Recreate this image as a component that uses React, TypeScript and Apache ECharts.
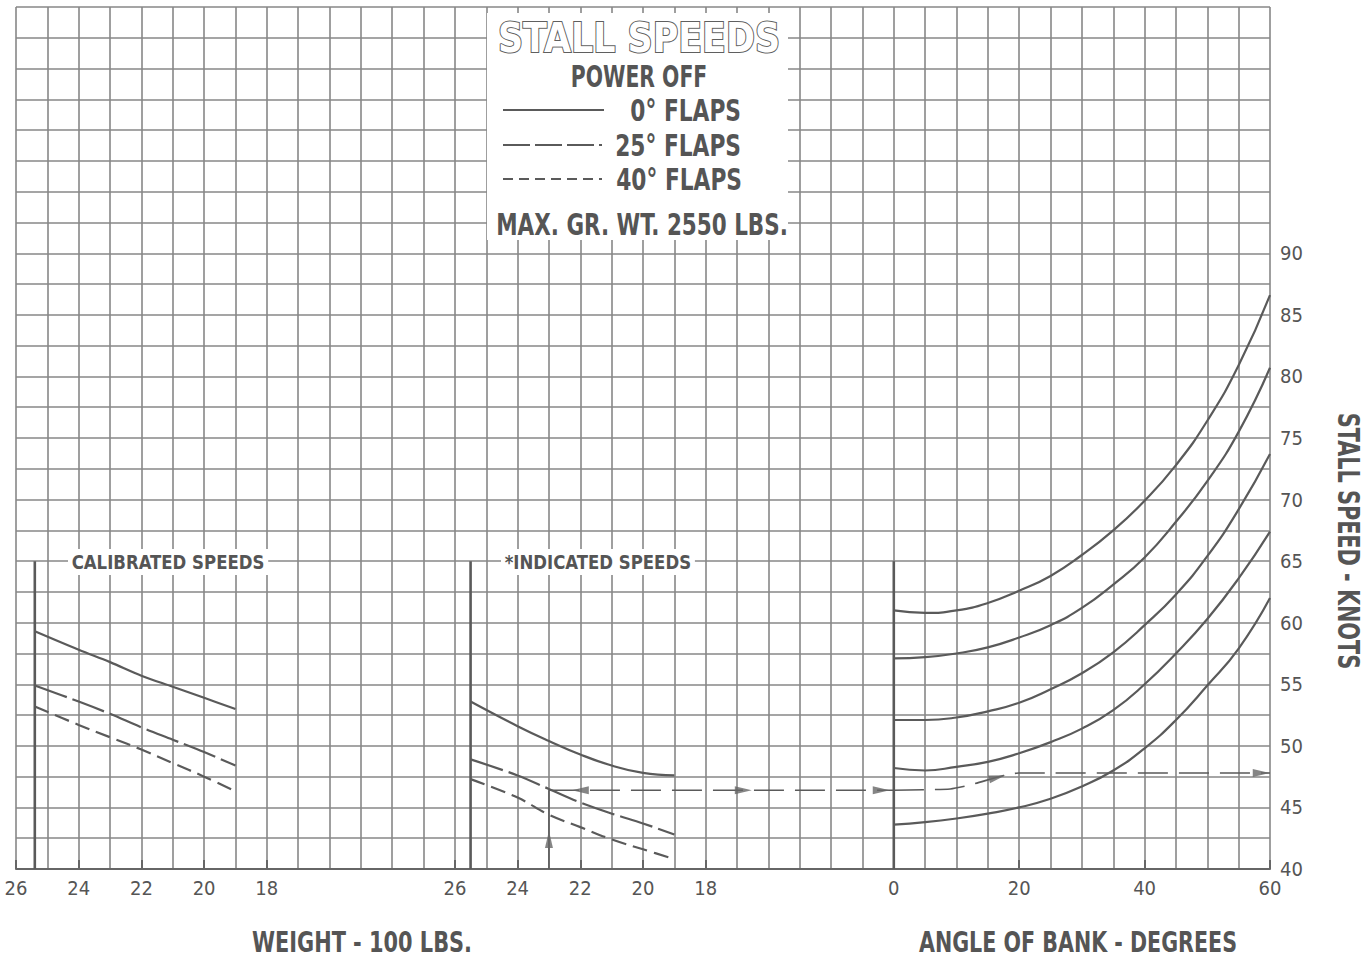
import React, { useEffect, useRef } from 'react';
import * as echarts from 'echarts';

// ---------- data ----------
const WEIGHT_TICKS = [26, 24, 22, 20, 18];
const BANK_TICKS = [0, 20, 40, 60];
const SPEED_TICKS = [40, 45, 50, 55, 60, 65, 70, 75, 80, 85, 90];

// calibrated speeds panel (weight in 100 lbs)
const CAL_WEIGHTS = [25.4, 24, 23, 22, 21, 20, 19];
const CAL_FLAPS0 = [59.3, 57.8, 56.8, 55.7, 54.8, 53.9, 53.0];
const CAL_FLAPS25 = [54.9, 53.6, 52.6, 51.5, 50.5, 49.5, 48.4];
const CAL_FLAPS40 = [53.2, 51.7, 50.7, 49.7, 48.6, 47.5, 46.3];

// indicated speeds panel
const IND_WEIGHTS = [25.5, 24, 23, 22, 21, 20, 19];
const IND_FLAPS0 = [53.6, 51.6, 50.4, 49.3, 48.4, 47.8, 47.6];
const IND_FLAPS25 = [48.9, 47.6, 46.5, 45.4, 44.5, 43.7, 42.8];
const IND_FLAPS40 = [47.3, 45.8, 44.4, 43.4, 42.4, 41.6, 40.8];

// angle of bank panel
const BANK_ANGLES = [0, 5, 10, 15, 20, 25, 30, 35, 40, 45, 50, 55, 60];
const BANK_A = [61.0, 60.8, 61.0, 61.6, 62.6, 63.8, 65.5, 67.5, 69.9, 72.8, 76.4, 80.9, 86.6];
const BANK_B = [57.1, 57.2, 57.5, 58.0, 58.8, 59.8, 61.2, 63.1, 65.3, 68.2, 71.5, 75.5, 80.7];
const BANK_C = [52.1, 52.1, 52.3, 52.8, 53.5, 54.6, 55.9, 57.6, 59.8, 62.3, 65.4, 69.2, 73.7];
const BANK_D = [48.2, 48.0, 48.3, 48.7, 49.4, 50.3, 51.4, 52.9, 55.0, 57.5, 60.3, 63.6, 67.4];
const BANK_E = [43.6, 43.8, 44.1, 44.5, 45.0, 45.7, 46.7, 48.0, 49.8, 52.1, 54.9, 57.9, 62.0];

// worked example
const EXAMPLE_WEIGHT = 23;
const EXAMPLE_IAS = 46.4;
const EXAMPLE_BANK_ANGLES = [0, 9, 12, 17.5, 20, 60];
const EXAMPLE_BANK_SPEEDS = [46.4, 46.5, 46.8, 47.6, 47.8, 47.8];

const CAL_START = 25.4;
const IND_START = 25.5;
const PANEL_TOP = 65;

// ---------- layout ----------
const L = 16, T = 7, W = 1254, H = 862;
const COLS = 40;
const CW = W / COLS;
const MID_COL = 14; // column of weight 26 in indicated panel
const BANK_COL = 28; // column of 0 deg bank
const FONT = "'Liberation Sans Narrow', 'DejaVu Sans Condensed', 'Liberation Sans', sans-serif";
const INK = '#555';
const GRIDC = '#878787';
const CURVE = '#5a5a5a';

const pairs = (xs: number[], ys: number[]) => xs.map((x, i) => [x, ys[i]]);

function lineSeries(name: string, grid: number, data: number[][], type: any = 'solid', width = 2.2, smooth: any = 0.35) {
  return {
    name, type: 'line', xAxisIndex: grid, yAxisIndex: grid, data, smooth,
    symbol: 'none', lineStyle: { color: CURVE, width, type }, silent: true, z: 3,
  };
}

function arrow(grid: number, pt: number[], rot: number) {
  return {
    type: 'scatter', xAxisIndex: grid, yAxisIndex: grid, data: [pt],
    symbol: 'triangle', symbolSize: [8, 17], symbolRotate: rot,
    itemStyle: { color: '#666' }, silent: true, z: 4,
  };
}

export default function App() {
  const ref = useRef<HTMLDivElement>(null);
  useEffect(() => {
    if (!ref.current) return;
    const chart = echarts.init(ref.current, undefined, { renderer: 'svg' });
    const axisLabelStyle = { color: INK, fontSize: 20, fontFamily: FONT, margin: 9 };
    const weightAxis = (grid: number) => ({
      type: 'value', gridIndex: grid, inverse: true, min: 18, max: 26, interval: 2,
      axisLine: { show: false }, splitLine: { show: false },
      axisTick: { show: true, inside: true, length: 9, lineStyle: { color: '#666', width: 2 } },
      axisLabel: { ...axisLabelStyle, formatter: (v: number) => (WEIGHT_TICKS.includes(v) ? String(v) : '') },
    });
    const hiddenY = (grid: number) => ({ type: 'value', gridIndex: grid, min: 40, max: 110, show: false });

    const txt = (text: string, x: number, y: number, size: number, sx = 1, align = 'center', extra: any = {}) => ({
      type: 'text', x, y, z: 20, scaleX: sx,
      style: { text, fill: INK, fontSize: size, fontFamily: FONT, fontWeight: 'bold', textAlign: align, textVerticalAlign: 'middle', ...extra },
    });

    const option: any = {
      animation: false,
      backgroundColor: '#fff',
      grid: [
        { left: L, top: T, width: W, height: H },
        { left: L, top: T, width: 8 * CW, height: H },
        { left: L + MID_COL * CW, top: T, width: 8 * CW, height: H },
        { left: L + BANK_COL * CW, top: T, width: 12 * CW, height: H },
      ],
      xAxis: [
        {
          type: 'value', gridIndex: 0, min: 0, max: COLS, interval: 1,
          axisLine: { show: true, lineStyle: { color: '#666', width: 2 } },
          axisTick: { show: false }, axisLabel: { show: false },
          splitLine: { show: true, lineStyle: { color: GRIDC, width: 1.6 } },
        },
        weightAxis(1),
        weightAxis(2),
        {
          type: 'value', gridIndex: 3, min: 0, max: 60, interval: 20,
          axisLine: { show: false }, splitLine: { show: false },
          axisTick: { show: true, inside: true, length: 9, lineStyle: { color: '#666', width: 2 } },
          axisLabel: { ...axisLabelStyle, formatter: (v: number) => (BANK_TICKS.includes(v) ? String(v) : '') },
        },
      ],
      yAxis: [
        {
          type: 'value', gridIndex: 0, min: 40, max: 110, interval: 2.5,
          axisLine: { show: false }, axisTick: { show: false }, axisLabel: { show: false },
          splitLine: { show: true, lineStyle: { color: GRIDC, width: 1.6 } },
        },
        hiddenY(1),
        hiddenY(2),
        {
          type: 'value', gridIndex: 3, position: 'right', min: 40, max: 110, interval: 5,
          axisLine: { show: false }, axisTick: { show: false }, splitLine: { show: false },
          axisLabel: { ...axisLabelStyle, margin: 10, formatter: (v: number) => (SPEED_TICKS.includes(v) ? String(v) : '') },
        },
      ],
      series: [
        // panel edges
        lineSeries('cal-edge', 1, [[CAL_START, 40], [CAL_START, PANEL_TOP]], 'solid', 2.6, false),
        lineSeries('ind-edge', 2, [[IND_START, 40], [IND_START, PANEL_TOP]], 'solid', 2.6, false),
        lineSeries('bank-edge', 3, [[0, 40], [0, PANEL_TOP]], 'solid', 2.6, false),
        // calibrated
        lineSeries('cal 0', 1, pairs(CAL_WEIGHTS, CAL_FLAPS0)),
        lineSeries('cal 25', 1, pairs(CAL_WEIGHTS, CAL_FLAPS25), [34, 6]),
        lineSeries('cal 40', 1, pairs(CAL_WEIGHTS, CAL_FLAPS40), [15, 7]),
        // indicated
        lineSeries('ind 0', 2, pairs(IND_WEIGHTS, IND_FLAPS0), 'solid', 2.2, 0.45),
        lineSeries('ind 25', 2, pairs(IND_WEIGHTS, IND_FLAPS25), [34, 6]),
        lineSeries('ind 40', 2, pairs(IND_WEIGHTS, IND_FLAPS40), [15, 7]),
        // bank curves
        lineSeries('bank a', 3, pairs(BANK_ANGLES, BANK_A), 'solid', 2.2, 0.5),
        lineSeries('bank b', 3, pairs(BANK_ANGLES, BANK_B), 'solid', 2.2, 0.5),
        lineSeries('bank c', 3, pairs(BANK_ANGLES, BANK_C), 'solid', 2.2, 0.5),
        lineSeries('bank d', 3, pairs(BANK_ANGLES, BANK_D), 'solid', 2.2, 0.5),
        lineSeries('bank e', 3, pairs(BANK_ANGLES, BANK_E), 'solid', 2.2, 0.5),
        // example
        lineSeries('ex up', 2, [[EXAMPLE_WEIGHT, 40], [EXAMPLE_WEIGHT, EXAMPLE_IAS]], 'solid', 1.6, false),
        arrow(2, [EXAMPLE_WEIGHT, 42.4], 0),
        lineSeries('ex across', 0, [[MID_COL + 26 - EXAMPLE_WEIGHT, EXAMPLE_IAS], [BANK_COL, EXAMPLE_IAS]], [30, 11], 1.6, false),
        arrow(0, [MID_COL + 26 - 22, EXAMPLE_IAS], 90),
        arrow(0, [23.2, EXAMPLE_IAS], -90),
        arrow(0, [27.6, EXAMPLE_IAS], -90),
        lineSeries('ex bank', 3, pairs(EXAMPLE_BANK_ANGLES, EXAMPLE_BANK_SPEEDS), [30, 11], 1.6, 0.2),
        arrow(3, [16.5, 47.45], -76),
        arrow(3, [58.6, 47.8], -90),
      ],
      graphic: [
        { type: 'rect', z: 10, shape: { x: 487, y: 13, width: 301, height: 227 }, style: { fill: '#fff' } },
        txt('STALL SPEEDS', 639, 38, 40, 0.97, 'center', { fill: '#fff', stroke: '#5f5f5f', lineWidth: 2 }),
        txt('POWER OFF', 639, 76, 31, 0.73),
        { type: 'line', z: 20, shape: { x1: 503, y1: 110, x2: 604, y2: 110 }, style: { stroke: CURVE, lineWidth: 2 } },
        txt('0° FLAPS', 741, 110, 31, 0.78, 'right'),
        { type: 'line', z: 20, shape: { x1: 503, y1: 145, x2: 602, y2: 145 }, style: { stroke: CURVE, lineWidth: 2, lineDash: [27, 5] } },
        txt('25° FLAPS', 741, 145, 31, 0.78, 'right'),
        { type: 'line', z: 20, shape: { x1: 503, y1: 179, x2: 602, y2: 179 }, style: { stroke: CURVE, lineWidth: 2, lineDash: [10, 6] } },
        txt('40° FLAPS', 742, 179, 31, 0.78, 'right'),
        txt('MAX. GR. WT. 2550 LBS.', 642, 224, 31, 0.77),
        txt('CALIBRATED SPEEDS', 68, 562, 20, 0.92, 'left', { backgroundColor: '#fff', padding: [3, 4] }),
        txt('*INDICATED SPEEDS', 501, 562, 20, 0.92, 'left', { backgroundColor: '#fff', padding: [3, 4] }),
        txt('WEIGHT - 100 LBS.', 362, 942, 29, 0.8),
        txt('ANGLE OF BANK - DEGREES', 1078, 942, 29, 0.79),
        { type: 'text', z: 20, x: 1349, y: 541, rotation: -Math.PI / 2, scaleX: 0.77,
          style: { text: 'STALL SPEED - KNOTS', fill: INK, fontSize: 30, fontFamily: FONT, fontWeight: 'bold', textAlign: 'center', textVerticalAlign: 'middle' } },
      ],
    };
    chart.setOption(option);
    return () => chart.dispose();
  }, []);
  return <div ref={ref} style={{ position: 'absolute', left: 0, top: 0, width: 1369, height: 959 }} />;
}
